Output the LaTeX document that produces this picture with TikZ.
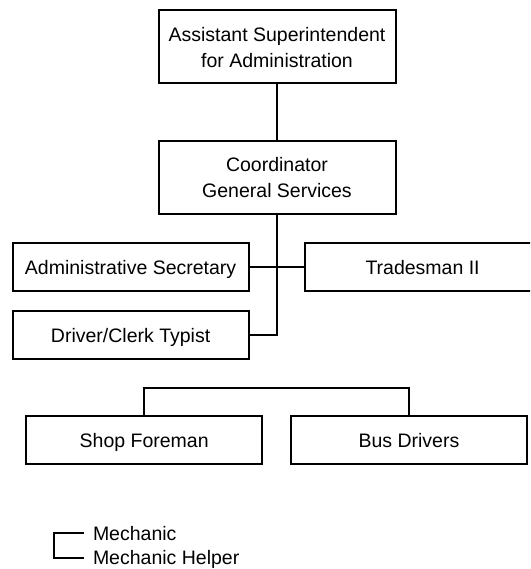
\documentclass[tikz,border=0pt]{standalone}
\usepackage{fontspec}
\setmainfont{Liberation Sans}
\begin{document}
\begin{tikzpicture}[x=1pt,y=-1pt,
  line width=2pt,
  orgbox/.style={draw, rectangle, inner sep=0pt, align=center,
    font=\fontsize{19.5}{26}\selectfont, text depth=0pt},
  wide/.style={orgbox, minimum width=237pt, minimum height=73pt},
  flat/.style={orgbox, minimum width=236pt, minimum height=48pt},
  legendtext/.style={inner sep=0pt, anchor=base west,
    font=\fontsize{19.5}{26}\selectfont}]
\clip (0,0) rectangle (530,569);

% upper chain of command
\node[wide] (top) at (277,47) {Assistant Superintendent\\for Administration};
\node[wide] (coord) at (277,177.2) {Coordinator\\General Services};

% staff reporting to the coordinator
\node[flat] (admin) at (130.6,267.2) {Administrative Secretary};
\node[flat] (trades) at (422.6,267.2) {Tradesman II};
\node[flat] (driver) at (130.6,335.2) {Driver/Clerk Typist};

% lower group
\node[flat] (shop) at (144.2,440.2) {Shop Foreman};
\node[flat] (bus) at (408.9,440.2) {Bus Drivers};

\coordinate (joint) at (coord.south |- driver.east);
\coordinate (bar) at (0,387.7);

\draw (top.south) -- (coord.north);
\draw (coord.south) -- (joint) -- (driver.east);
\draw (admin.east) -- (trades.west);
\draw (shop.north) -- (shop.north |- bar) -- (bus.north |- bar) -- (bus.north);

% legend
\node[legendtext] (mech) at (92,540) {Mechanic};
\node[legendtext] (helper) at (92,564.5) {Mechanic Helper};
\coordinate (lt) at (84,533);
\coordinate (lb) at (84,557.5);
\draw (lt) -- (54,533) -- (54,557.5) -- (lb);
\end{tikzpicture}
\end{document}
